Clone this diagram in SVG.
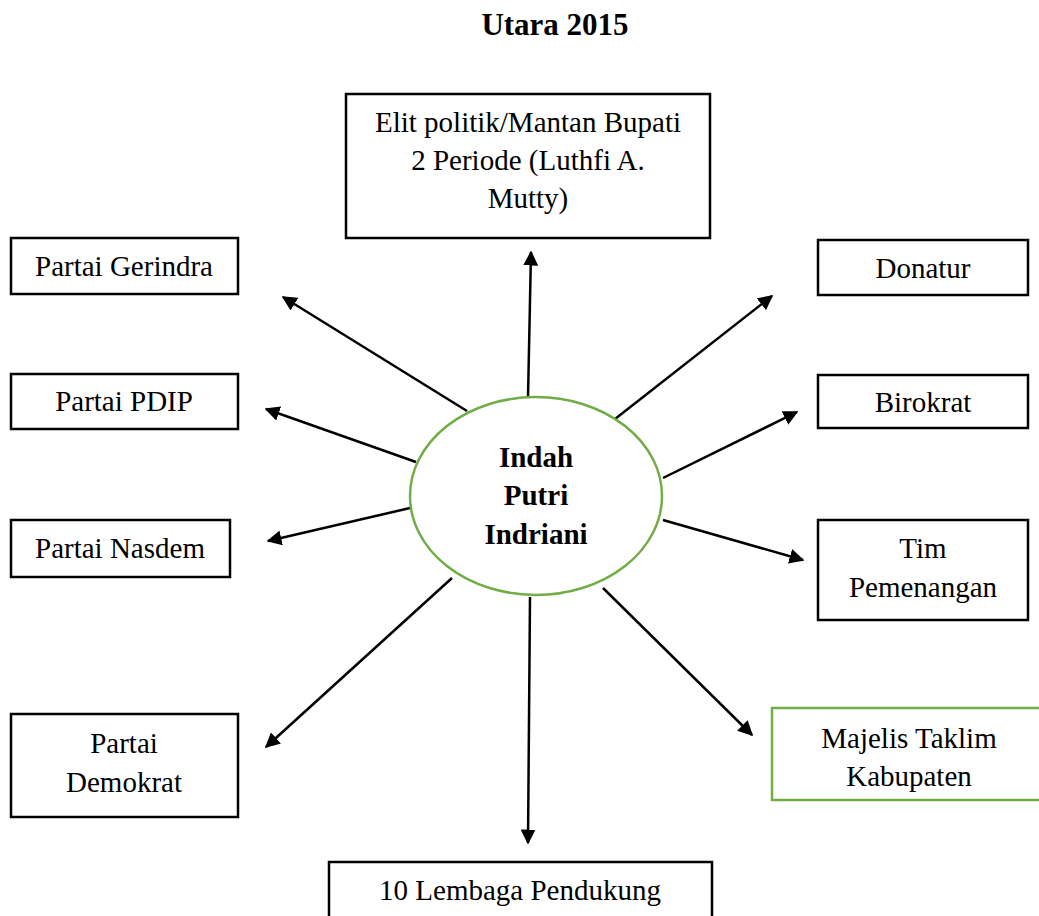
<svg xmlns="http://www.w3.org/2000/svg" width="1039" height="916" viewBox="0 0 1039 916">
<style>
.box{fill:#fff;stroke:#000;stroke-width:2.5}
.gbox{fill:#fff;stroke:#70ad47;stroke-width:2.5}
text{font-family:"Liberation Serif","Times New Roman",serif;font-size:29px;fill:#000;text-anchor:middle}
.b{font-weight:bold}
.t{font-size:31px}
.con line{stroke:#000;stroke-width:2.5;marker-end:url(#ah)}
</style>
<defs>
<marker id="ah" viewBox="0 0 10 10" refX="9" refY="5" markerWidth="6" markerHeight="6" orient="auto" markerUnits="strokeWidth">
<path d="M0,0 L10,5 L0,10 z" fill="#000"/>
</marker>
</defs>
<rect width="1039" height="916" fill="#fff"/>
<text class="b t" x="555" y="35">Utara 2015</text>
<g class="con">
<line x1="528" y1="398" x2="531" y2="252"/>
<line x1="467" y1="411" x2="283" y2="297"/>
<line x1="416" y1="462" x2="266" y2="409"/>
<line x1="410" y1="508" x2="268" y2="541"/>
<line x1="452" y1="578" x2="266" y2="747"/>
<line x1="530" y1="597" x2="528" y2="843"/>
<line x1="603" y1="588" x2="752" y2="735"/>
<line x1="663" y1="520" x2="803" y2="560"/>
<line x1="663" y1="478" x2="797" y2="412"/>
<line x1="615" y1="419" x2="772" y2="296"/>
</g>
<g id="center">
<ellipse cx="536" cy="496" rx="126" ry="99" fill="#fff" stroke="#70ad47" stroke-width="2.5"/>
<text class="b" x="536" y="467">Indah</text>
<text class="b" x="536" y="505">Putri</text>
<text class="b" x="536" y="544">Indriani</text>
</g>
<g id="elit">
<rect class="box" x="346" y="94" width="364" height="144"/>
<text x="528" y="132">Elit politik/Mantan Bupati</text>
<text x="528" y="170">2 Periode (Luthfi A.</text>
<text x="528" y="208">Mutty)</text>
</g>
<g id="gerindra">
<rect class="box" x="11" y="238" width="227" height="56"/>
<text x="124" y="276">Partai Gerindra</text>
</g>
<g id="pdip">
<rect class="box" x="11" y="374" width="227" height="55"/>
<text x="124" y="411">Partai PDIP</text>
</g>
<g id="nasdem">
<rect class="box" x="11" y="520" width="219" height="57"/>
<text x="120" y="558">Partai Nasdem</text>
</g>
<g id="demokrat">
<rect class="box" x="11" y="714" width="227" height="103"/>
<text x="124" y="753">Partai</text>
<text x="124" y="792">Demokrat</text>
</g>
<g id="donatur">
<rect class="box" x="818" y="240" width="210" height="55"/>
<text x="923" y="278">Donatur</text>
</g>
<g id="birokrat">
<rect class="box" x="818" y="375" width="210" height="53"/>
<text x="923" y="412">Birokrat</text>
</g>
<g id="tim">
<rect class="box" x="818" y="520" width="210" height="100"/>
<text x="923" y="558">Tim</text>
<text x="923" y="597">Pemenangan</text>
</g>
<g id="majelis">
<rect class="gbox" x="772" y="708" width="280" height="92"/>
<text x="909" y="748">Majelis Taklim</text>
<text x="909" y="786">Kabupaten</text>
</g>
<g id="lembaga">
<rect class="box" x="329" y="862" width="383" height="70"/>
<text x="520" y="900">10 Lembaga Pendukung</text>
</g>
</svg>
